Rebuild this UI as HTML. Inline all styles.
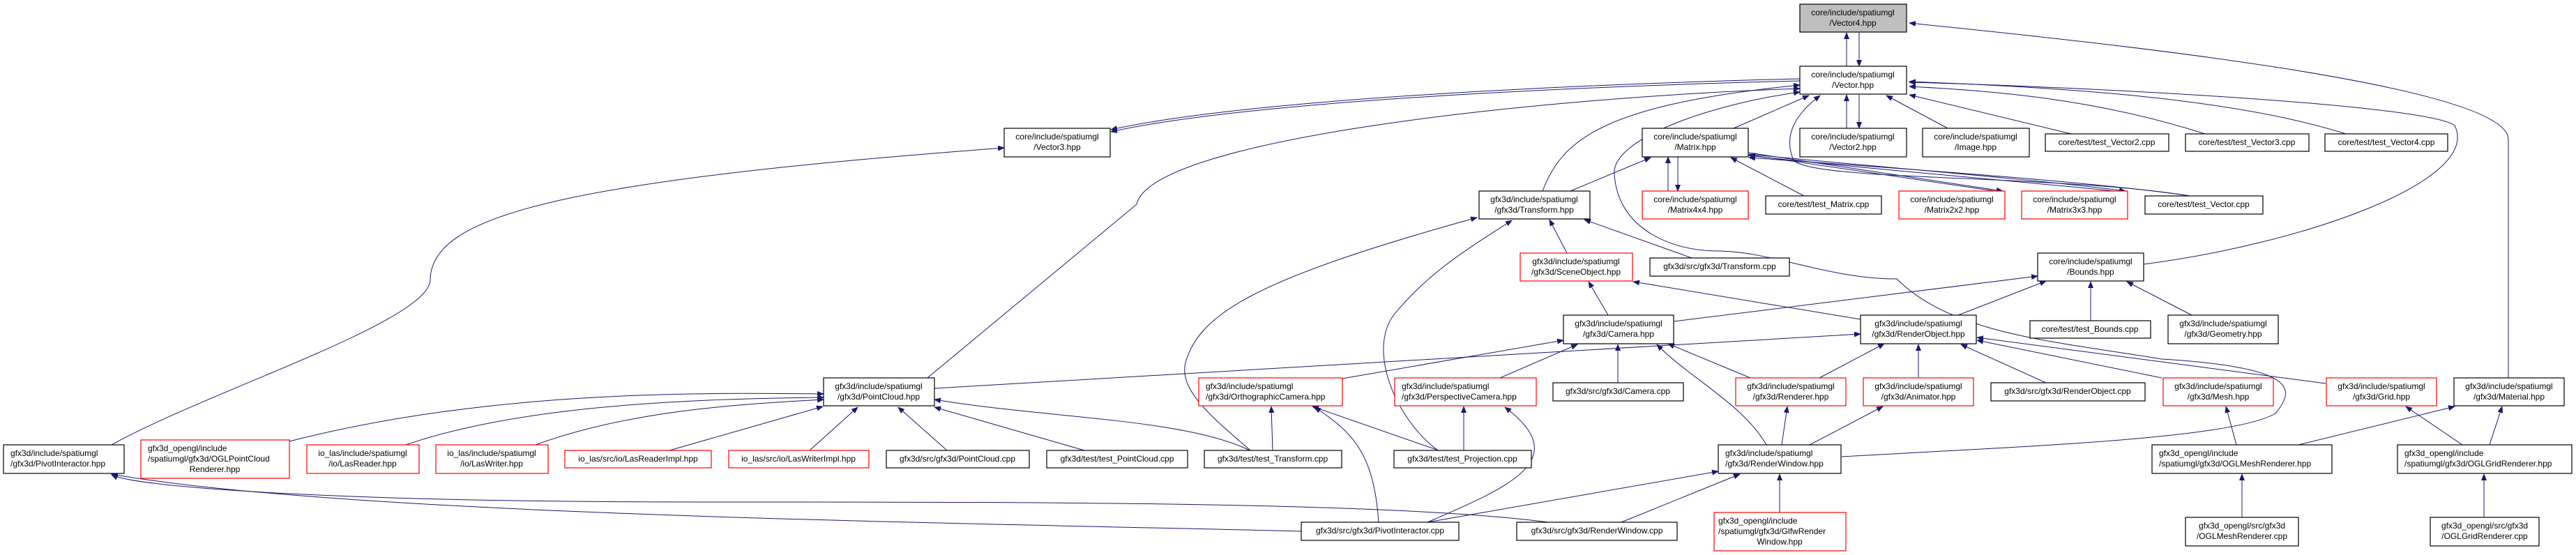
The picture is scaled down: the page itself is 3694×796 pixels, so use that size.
<!DOCTYPE html>
<html><head><meta charset="utf-8"><style>
html,body{margin:0;padding:0;background:#fff;}
svg{display:block;}
text{font-family:"Liberation Sans",Arial,sans-serif;font-size:12px;fill:#000;}
.n{fill:#fff;stroke:#000;stroke-width:1.2;}
.r{fill:#fff;stroke:#ff0000;stroke-width:1.2;}
.g{fill:#bfbfbf;stroke:#000;stroke-width:1.2;}
.e{fill:none;stroke:#191970;stroke-width:1;marker-end:url(#a);}
</style></head><body>
<svg width="3694" height="796" viewBox="0 0 3694 796" xmlns="http://www.w3.org/2000/svg">
<defs><marker id="a" markerWidth="10" markerHeight="8" refX="9" refY="4" orient="auto" markerUnits="userSpaceOnUse"><path d="M0,0 L10,4 L0,8 z" fill="#191970"/></marker></defs>
<g>
<path class="e" d="M2648,95 L2648,47"/>
<path class="e" d="M2666,47 L2666,95"/>
<path class="e" d="M2648,184 L2648,136"/>
<path class="e" d="M2666,136 L2666,184"/>
<path class="e" d="M2793,184 L2705,137"/>
<path class="e" d="M2970,192 L2738,136"/>
<path class="e" d="M3162,192 C3000,140 2850,130 2738,124"/>
<path class="e" d="M3364,192 C3200,140 2950,125 2738,117"/>
<path class="e" d="M3074,379 C3300,350 3560,260 3520,180 C3480,150 3000,125 2738,118"/>
<path class="e" d="M3597,542 L3597,200 C3597,120 3000,60 2738,33"/>
<path class="e" d="M2486,184 L2594,137"/>
<path class="e" d="M3140,281 C2950,250 2600,260 2572,230 C2555,190 2580,160 2610,137"/>
<path class="e" d="M2875,276 L2508,222"/>
<path class="e" d="M2508,219 L2872,274"/>
<path class="e" d="M3051,276 C2900,260 2650,240 2508,223"/>
<path class="e" d="M2508,221 C2650,236 2900,255 3048,274"/>
<path class="e" d="M3140,281 C3000,260 2700,240 2508,226"/>
<path class="e" d="M2392,274 L2392,225"/>
<path class="e" d="M2406,225 L2406,274"/>
<path class="e" d="M2587,281 L2482,226"/>
<path class="e" d="M2252,274 L2367,226"/>
<path class="e" d="M2212,274 C2240,200 2300,150 2581,122"/>
<path class="e" d="M2581,113 C2300,120 1800,140 1593,186"/>
<path class="e" d="M2581,116 C2300,123 1800,143 1593,189"/>
<path class="e" d="M1330,542 L1630,293 C1650,200 2200,140 2581,127"/>
<path class="e" d="M160,638 C300,560 620,460 617,400 C620,310 800,260 1440,212"/>
<path class="e" d="M2641,655 C2900,640 3200,630 3263,593 C3290,560 3300,527 3100,515 C2950,490 2800,480 2720,400 C2620,400 2540,360 2462,360 C2400,360 2320,330 2315,250 C2310,200 2450,150 2581,132"/>
<path class="e" d="M2247,363 L2222,315"/>
<path class="e" d="M2426,370 L2272,315"/>
<path class="e" d="M1793,646 C1740,600 1690,560 1700,520 C1720,450 1800,400 2118,312"/>
<path class="e" d="M2062,646 C2000,600 1960,500 2000,450 C2050,390 2100,360 2168,316"/>
<path class="e" d="M2306,452 L2278,404"/>
<path class="e" d="M2668,458 L2342,404"/>
<path class="e" d="M2808,452 L2934,403"/>
<path class="e" d="M2400,461 L2922,396"/>
<path class="e" d="M2998,460 L2998,404"/>
<path class="e" d="M3143,452 L3050,404"/>
<path class="e" d="M1340,557 L2668,479"/>
<path class="e" d="M2510,542 L2392,493"/>
<path class="e" d="M2533,638 C2500,580 2420,540 2376,494"/>
<path class="e" d="M1925,543 L2242,488"/>
<path class="e" d="M2151,542 L2262,494"/>
<path class="e" d="M2320,549 L2320,494"/>
<path class="e" d="M2609,542 L2702,493"/>
<path class="e" d="M2751,542 L2751,494"/>
<path class="e" d="M2934,549 L2812,494"/>
<path class="e" d="M3100,542 L2835,488"/>
<path class="e" d="M3335,550 L2835,484"/>
<path class="e" d="M2555,638 L2563,583"/>
<path class="e" d="M2595,638 L2700,583"/>
<path class="e" d="M3207,638 L3192,583"/>
<path class="e" d="M3296,638 L3520,583"/>
<path class="e" d="M3531,638 L3450,583"/>
<path class="e" d="M3570,638 L3588,583"/>
<path class="e" d="M3215,742 L3215,680"/>
<path class="e" d="M3562,742 L3562,680"/>
<path class="e" d="M2552,735 L2552,680"/>
<path class="e" d="M415,633 C700,560 1000,563 1181,565"/>
<path class="e" d="M582,638 C750,580 1000,572 1181,570"/>
<path class="e" d="M768,638 C900,590 1050,580 1181,573"/>
<path class="e" d="M960,646 L1180,583"/>
<path class="e" d="M1161,646 L1230,584"/>
<path class="e" d="M1358,646 L1288,584"/>
<path class="e" d="M1555,646 L1340,584"/>
<path class="e" d="M1792,646 C1700,600 1500,600 1340,573"/>
<path class="e" d="M1825,646 L1823,583"/>
<path class="e" d="M2063,646 L1882,583"/>
<path class="e" d="M2099,646 L2099,583"/>
<path class="e" d="M1977,749 C1970,650 1940,620 1885,584"/>
<path class="e" d="M2047,749 C2160,700 2260,660 2158,584"/>
<path class="e" d="M2047,749 L2464,676"/>
<path class="e" d="M2325,749 L2495,680"/>
<path class="e" d="M1866,762 C1400,750 500,740 160,680"/>
<path class="e" d="M2220,749 C2000,720 1500,720 1000,720 C500,720 200,700 160,681"/>
</g>
<g>
<rect class="g" x="2581" y="6" width="153" height="40"/><text x="2657" y="22" text-anchor="middle">core/include/spatiumgl</text><text x="2657" y="37" text-anchor="middle">/Vector4.hpp</text>
<rect class="n" x="2581" y="95" width="153" height="40"/><text x="2657" y="111" text-anchor="middle">core/include/spatiumgl</text><text x="2657" y="126" text-anchor="middle">/Vector.hpp</text>
<rect class="n" x="2581" y="184" width="153" height="41"/><text x="2657" y="200" text-anchor="middle">core/include/spatiumgl</text><text x="2657" y="215" text-anchor="middle">/Vector2.hpp</text>
<rect class="n" x="2757" y="184" width="153" height="41"/><text x="2833" y="200" text-anchor="middle">core/include/spatiumgl</text><text x="2833" y="215" text-anchor="middle">/Image.hpp</text>
<rect class="n" x="2933" y="192" width="177" height="25"/><text x="3021" y="208" text-anchor="middle">core/test/test_Vector2.cpp</text>
<rect class="n" x="3134" y="192" width="177" height="25"/><text x="3222" y="208" text-anchor="middle">core/test/test_Vector3.cpp</text>
<rect class="n" x="3334" y="192" width="176" height="25"/><text x="3422" y="208" text-anchor="middle">core/test/test_Vector4.cpp</text>
<rect class="n" x="1440" y="184" width="152" height="41"/><text x="1516" y="200" text-anchor="middle">core/include/spatiumgl</text><text x="1516" y="215" text-anchor="middle">/Vector3.hpp</text>
<rect class="n" x="2355" y="184" width="152" height="41"/><text x="2431" y="200" text-anchor="middle">core/include/spatiumgl</text><text x="2431" y="215" text-anchor="middle">/Matrix.hpp</text>
<rect class="r" x="2355" y="274" width="152" height="40"/><text x="2431" y="290" text-anchor="middle">core/include/spatiumgl</text><text x="2431" y="305" text-anchor="middle">/Matrix4x4.hpp</text>
<rect class="n" x="2532" y="281" width="166" height="26"/><text x="2615" y="297" text-anchor="middle">core/test/test_Matrix.cpp</text>
<rect class="r" x="2723" y="274" width="152" height="40"/><text x="2799" y="290" text-anchor="middle">core/include/spatiumgl</text><text x="2799" y="305" text-anchor="middle">/Matrix2x2.hpp</text>
<rect class="r" x="2899" y="274" width="152" height="40"/><text x="2975" y="290" text-anchor="middle">core/include/spatiumgl</text><text x="2975" y="305" text-anchor="middle">/Matrix3x3.hpp</text>
<rect class="n" x="3076" y="281" width="169" height="26"/><text x="3160" y="297" text-anchor="middle">core/test/test_Vector.cpp</text>
<rect class="n" x="2121" y="274" width="159" height="40"/><text x="2200" y="290" text-anchor="middle">gfx3d/include/spatiumgl</text><text x="2200" y="305" text-anchor="middle">/gfx3d/Transform.hpp</text>
<rect class="r" x="2180" y="363" width="161" height="40"/><text x="2260" y="379" text-anchor="middle">gfx3d/include/spatiumgl</text><text x="2260" y="394" text-anchor="middle">/gfx3d/SceneObject.hpp</text>
<rect class="n" x="2366" y="370" width="200" height="26"/><text x="2466" y="386" text-anchor="middle">gfx3d/src/gfx3d/Transform.cpp</text>
<rect class="n" x="2922" y="363" width="152" height="40"/><text x="2998" y="379" text-anchor="middle">core/include/spatiumgl</text><text x="2998" y="394" text-anchor="middle">/Bounds.hpp</text>
<rect class="n" x="2242" y="452" width="158" height="41"/><text x="2321" y="468" text-anchor="middle">gfx3d/include/spatiumgl</text><text x="2321" y="483" text-anchor="middle">/gfx3d/Camera.hpp</text>
<rect class="n" x="2668" y="452" width="166" height="41"/><text x="2751" y="468" text-anchor="middle">gfx3d/include/spatiumgl</text><text x="2751" y="483" text-anchor="middle">/gfx3d/RenderObject.hpp</text>
<rect class="n" x="2911" y="460" width="173" height="25"/><text x="2997" y="476" text-anchor="middle">core/test/test_Bounds.cpp</text>
<rect class="n" x="3109" y="452" width="158" height="41"/><text x="3188" y="468" text-anchor="middle">gfx3d/include/spatiumgl</text><text x="3188" y="483" text-anchor="middle">/gfx3d/Geometry.hpp</text>
<rect class="n" x="1181" y="542" width="159" height="40"/><text x="1260" y="558" text-anchor="middle">gfx3d/include/spatiumgl</text><text x="1260" y="573" text-anchor="middle">/gfx3d/PointCloud.hpp</text>
<rect class="r" x="1719" y="542" width="206" height="40"/><text x="1729" y="558">gfx3d/include/spatiumgl</text><text x="1729" y="573">/gfx3d/OrthographicCamera.hpp</text>
<rect class="r" x="2000" y="542" width="203" height="40"/><text x="2010" y="558">gfx3d/include/spatiumgl</text><text x="2010" y="573">/gfx3d/PerspectiveCamera.hpp</text>
<rect class="n" x="2227" y="549" width="187" height="26"/><text x="2320" y="565" text-anchor="middle">gfx3d/src/gfx3d/Camera.cpp</text>
<rect class="r" x="2489" y="542" width="158" height="40"/><text x="2568" y="558" text-anchor="middle">gfx3d/include/spatiumgl</text><text x="2568" y="573" text-anchor="middle">/gfx3d/Renderer.hpp</text>
<rect class="r" x="2672" y="542" width="158" height="40"/><text x="2751" y="558" text-anchor="middle">gfx3d/include/spatiumgl</text><text x="2751" y="573" text-anchor="middle">/gfx3d/Animator.hpp</text>
<rect class="n" x="2855" y="549" width="221" height="26"/><text x="2965" y="565" text-anchor="middle">gfx3d/src/gfx3d/RenderObject.cpp</text>
<rect class="r" x="3102" y="542" width="158" height="40"/><text x="3181" y="558" text-anchor="middle">gfx3d/include/spatiumgl</text><text x="3181" y="573" text-anchor="middle">/gfx3d/Mesh.hpp</text>
<rect class="r" x="3336" y="542" width="158" height="40"/><text x="3415" y="558" text-anchor="middle">gfx3d/include/spatiumgl</text><text x="3415" y="573" text-anchor="middle">/gfx3d/Grid.hpp</text>
<rect class="n" x="3519" y="542" width="158" height="40"/><text x="3598" y="558" text-anchor="middle">gfx3d/include/spatiumgl</text><text x="3598" y="573" text-anchor="middle">/gfx3d/Material.hpp</text>
<rect class="n" x="5" y="638" width="173" height="41"/><text x="15" y="654">gfx3d/include/spatiumgl</text><text x="15" y="669">/gfx3d/PivotInteractor.hpp</text>
<rect class="r" x="202" y="631" width="213" height="55"/><text x="212" y="647">gfx3d_opengl/include</text><text x="212" y="662">/spatiumgl/gfx3d/OGLPointCloud</text><text x="308" y="677" text-anchor="middle">Renderer.hpp</text>
<rect class="r" x="440" y="638" width="161" height="41"/><text x="520" y="654" text-anchor="middle">io_las/include/spatiumgl</text><text x="520" y="669" text-anchor="middle">/io/LasReader.hpp</text>
<rect class="r" x="625" y="638" width="161" height="41"/><text x="705" y="654" text-anchor="middle">io_las/include/spatiumgl</text><text x="705" y="669" text-anchor="middle">/io/LasWriter.hpp</text>
<rect class="r" x="810" y="646" width="210" height="25"/><text x="915" y="662" text-anchor="middle">io_las/src/io/LasReaderImpl.hpp</text>
<rect class="r" x="1045" y="646" width="201" height="25"/><text x="1145" y="662" text-anchor="middle">io_las/src/io/LasWriterImpl.hpp</text>
<rect class="n" x="1271" y="646" width="205" height="25"/><text x="1373" y="662" text-anchor="middle">gfx3d/src/gfx3d/PointCloud.cpp</text>
<rect class="n" x="1501" y="646" width="202" height="25"/><text x="1602" y="662" text-anchor="middle">gfx3d/test/test_PointCloud.cpp</text>
<rect class="n" x="1727" y="646" width="197" height="25"/><text x="1825" y="662" text-anchor="middle">gfx3d/test/test_Transform.cpp</text>
<rect class="n" x="1999" y="646" width="197" height="25"/><text x="2097" y="662" text-anchor="middle">gfx3d/test/test_Projection.cpp</text>
<rect class="n" x="2464" y="638" width="176" height="41"/><text x="2474" y="654">gfx3d/include/spatiumgl</text><text x="2474" y="669">/gfx3d/RenderWindow.hpp</text>
<rect class="n" x="3086" y="638" width="258" height="41"/><text x="3096" y="654">gfx3d_opengl/include</text><text x="3096" y="669">/spatiumgl/gfx3d/OGLMeshRenderer.hpp</text>
<rect class="n" x="3438" y="638" width="250" height="41"/><text x="3448" y="654">gfx3d_opengl/include</text><text x="3448" y="669">/spatiumgl/gfx3d/OGLGridRenderer.hpp</text>
<rect class="n" x="1866" y="749" width="226" height="26"/><text x="1979" y="765" text-anchor="middle">gfx3d/src/gfx3d/PivotInteractor.cpp</text>
<rect class="n" x="2175" y="749" width="230" height="26"/><text x="2290" y="765" text-anchor="middle">gfx3d/src/gfx3d/RenderWindow.cpp</text>
<rect class="r" x="2458" y="735" width="189" height="55"/><text x="2464" y="751">gfx3d_opengl/include</text><text x="2464" y="766">/spatiumgl/gfx3d/GlfwRender</text><text x="2552" y="781" text-anchor="middle">Window.hpp</text>
<rect class="n" x="3134" y="742" width="162" height="41"/><text x="3215" y="758" text-anchor="middle">gfx3d_opengl/src/gfx3d</text><text x="3215" y="773" text-anchor="middle">/OGLMeshRenderer.cpp</text>
<rect class="n" x="3485" y="742" width="156" height="41"/><text x="3563" y="758" text-anchor="middle">gfx3d_opengl/src/gfx3d</text><text x="3563" y="773" text-anchor="middle">/OGLGridRenderer.cpp</text>
</g>
</svg>
</body></html>
